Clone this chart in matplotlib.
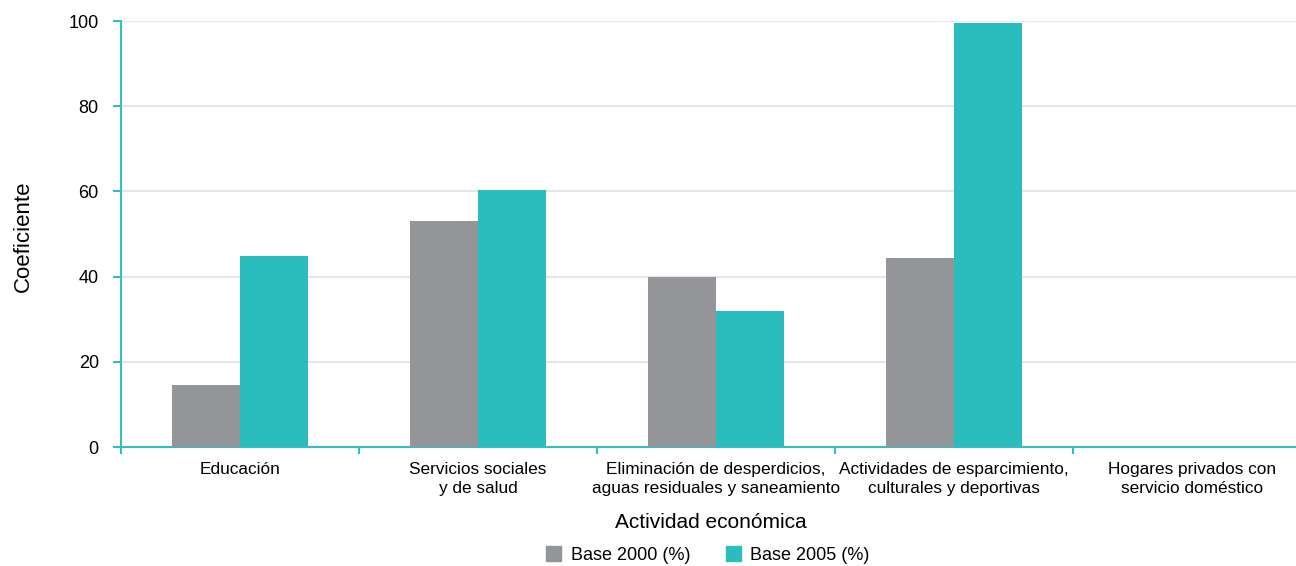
import matplotlib
matplotlib.use("Agg")
import matplotlib.pyplot as plt
from matplotlib.patches import Patch
import numpy as np

categories = [
    "Educación",
    "Servicios sociales\ny de salud",
    "Eliminación de desperdicios,\naguas residuales y saneamiento",
    "Actividades de esparcimiento,\nculturales y deportivas",
    "Hogares privados con\nservicio doméstico",
]
base_2000 = [14.6, 53.1, 39.9, 44.4, 0]
base_2005 = [44.8, 60.3, 31.9, 99.5, 0]
series_labels = ["Base 2000 (%)", "Base 2005 (%)"]
yticks = [0, 20, 40, 60, 80, 100]

GRAY = "#939598"
TEAL = "#2bbdbd"
AXIS = "#35c0c0"
GRID = "#e6e6e6"

plt.rcParams["font.family"] = ["Liberation Sans", "DejaVu Sans"]

W, H = 1296, 566
fig = plt.figure(figsize=(W / 100, H / 100), dpi=100)
left, right = 121 / W, 1311 / W
bottom, top = (H - 447) / H, (H - 21) / H
ax = fig.add_axes([left, bottom, right - left, top - bottom])

x = np.arange(len(categories))
bw = 0.286
ax.bar(x - bw / 2, base_2000, bw, color=GRAY, zorder=3)
ax.bar(x + bw / 2, base_2005, bw, color=TEAL, zorder=3)

ax.set_xlim(-0.5, len(categories) - 0.5)
ax.set_ylim(0, 100)
ax.set_yticks(yticks)
ax.set_yticklabels([str(v) for v in yticks], fontsize=13)
ax.yaxis.grid(True, color=GRID, linewidth=1.5, zorder=0)
ax.set_axisbelow(True)

# category boundaries as ticks, labels centered under each group
ax.set_xticks(np.arange(len(categories) + 1) - 0.5)
ax.set_xticklabels([])
ax.set_xticks(x, minor=True)
ax.set_xticklabels(categories, minor=True, fontsize=12.4, linespacing=1.38)
ax.tick_params(axis="x", which="minor", length=0, pad=10.5)
ax.tick_params(axis="x", which="major", length=5, color=AXIS, width=1.5)
ax.tick_params(axis="y", length=6, color=AXIS, width=1.5, pad=10)

for s in ["top", "right"]:
    ax.spines[s].set_visible(False)
for s in ["left", "bottom"]:
    ax.spines[s].set_color(AXIS)
    ax.spines[s].set_linewidth(1.5)

fig.text(23 / W, 1 - 236 / H, "Coeficiente", rotation=90, ha="center",
         va="center", fontsize=16)
fig.text(711 / W, 1 - 523 / H, "Actividad económica", ha="center",
         va="center", fontsize=15)

handles = [Patch(color=GRAY), Patch(color=TEAL)]
fig.legend(handles, series_labels, loc="center", bbox_to_anchor=(708 / W, 1 - 555 / H),
           ncol=2, frameon=False, fontsize=13, handlelength=0.85, handleheight=0.85,
           handletextpad=0.5, columnspacing=2.0)

fig.savefig("out.png", dpi=100)
